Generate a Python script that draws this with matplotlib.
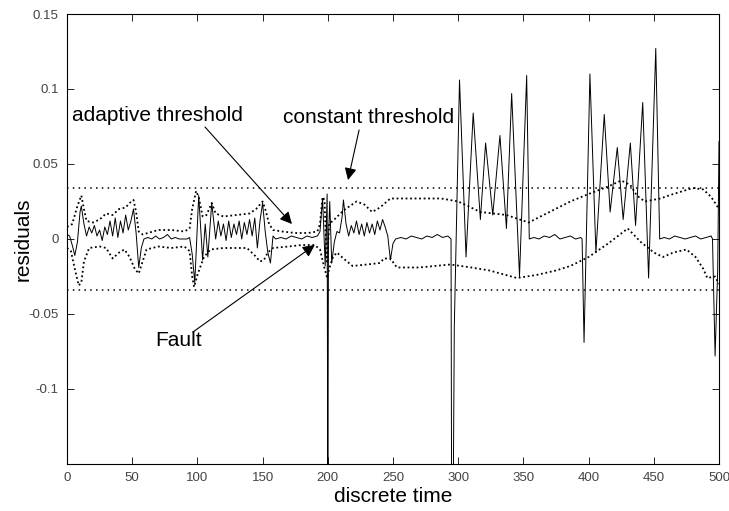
import matplotlib
matplotlib.use("Agg")
import matplotlib.pyplot as plt

plt.rcParams["font.family"] = ["Liberation Sans", "DejaVu Sans"]

# residual signal (time, value)
res_t = [0, 2, 4, 6, 8, 10, 11, 13, 15, 17, 19, 21, 23, 25, 27, 29, 31, 33, 35, 37, 39, 41, 43, 45,
         47, 49, 51, 53, 55, 57, 59, 62, 65, 68, 71, 74, 77, 80, 83, 86, 89, 92, 94, 96, 98, 101,
         104, 106, 108, 111, 114, 116, 118, 120, 122, 124, 126, 128, 130, 132, 134, 136, 138, 140,
         142, 144, 146, 148, 150, 152, 154, 156, 158, 160, 164, 168, 172, 176, 180, 184, 188, 192,
         194, 196, 198, 199.5, 200, 200.5, 201.5, 203, 205, 207, 209, 211, 212, 214, 216, 218, 220,
         222, 224, 226, 228, 230, 232, 234, 236, 238, 240, 242, 244, 246, 248, 250, 252, 256, 260,
         264, 268, 272, 276, 280, 284, 288, 292, 294.5, 295, 296, 297, 301, 306, 311.5, 317, 321,
         326.5, 332, 337, 341, 347, 352.5, 354.5, 358, 362, 366, 370, 374, 378, 382, 386, 390, 394,
         395, 396.5, 401, 405.6, 412, 416.5, 422, 426.5, 432, 436, 441.5, 446, 451.5, 454.5, 458,
         462, 466, 470, 474, 478, 482, 486, 490, 494, 495, 497, 499, 500]
res_v = [0.003, 0.002, -0.004, -0.011, -0.002, 0.018, 0.022, 0.010, 0.002, 0.008, 0.004, 0.009,
         0.002, 0.006, -0.001, 0.008, 0.003, 0.012, 0.002, 0.014, 0.001, 0.012, 0.004, 0.016, 0.006,
         0.012, 0.020, 0.004, -0.019, -0.006, 0.000, 0.001, 0.000, 0.002, 0.000, 0.001, 0.003, 0.000,
         0.001, 0.000, 0.000, 0.000, 0.001, -0.010, -0.029, 0.029, -0.014, 0.010, -0.012, 0.024,
         0.000, 0.012, 0.002, 0.010, -0.001, 0.012, 0.001, 0.010, 0.003, 0.012, 0.000, 0.011, 0.003,
         0.013, 0.002, 0.014, -0.006, 0.012, 0.024, 0.005, -0.009, -0.016, 0.002, 0.000, 0.001,
         0.000, 0.002, 0.001, 0.000, 0.002, 0.001, 0.002, 0.005, 0.027, -0.018, 0.030, -0.200, 0.000,
         0.025, -0.016, -0.002, 0.005, 0.004, 0.015, 0.026, 0.010, 0.002, 0.009, 0.004, 0.012, 0.003,
         0.010, 0.002, 0.011, 0.004, 0.010, 0.003, 0.012, 0.006, 0.013, 0.008, 0.002, -0.014, -0.003,
         0.000, 0.001, 0.000, 0.002, 0.001, 0.000, 0.002, 0.001, 0.003, 0.001, 0.002, 0.000, -0.200,
         -0.200, -0.059, 0.106, -0.012, 0.084, 0.013, 0.064, 0.016, 0.069, 0.007, 0.097, -0.025,
         0.109, 0.000, 0.001, 0.000, 0.002, 0.001, 0.003, 0.000, 0.001, 0.002, 0.000, 0.001, 0.000,
         -0.069, 0.110, -0.009, 0.083, 0.018, 0.061, 0.013, 0.064, 0.009, 0.091, -0.026, 0.127,
         0.000, 0.001, 0.000, 0.002, 0.001, 0.000, 0.001, 0.002, 0.000, 0.001, 0.002, 0.000, -0.078,
         -0.020, 0.065]

# adaptive threshold, upper and lower
up_t = [0, 4, 8, 11, 13, 15, 20, 25, 30, 35, 40, 45, 48, 51, 53, 55, 58, 62, 70, 80, 90, 94, 96,
        99, 101, 104, 107, 111, 114, 120, 130, 140, 145, 150, 152, 155, 158, 165, 175, 185, 192,
        194, 196, 197.5, 198.5, 199.5, 201, 205, 212, 222, 228, 234, 240, 248, 260, 275, 287, 300,
        317, 337, 354, 370, 386, 400, 415, 425, 432, 437, 443, 455, 465, 480, 488, 494, 497, 500]
up_v = [0.008, 0.010, 0.022, 0.029, 0.020, 0.012, 0.011, 0.013, 0.017, 0.016, 0.020, 0.021, 0.024,
        0.026, 0.018, 0.005, 0.003, 0.004, 0.006, 0.006, 0.005, 0.007, 0.020, 0.032, 0.028, 0.015,
        0.016, 0.024, 0.017, 0.015, 0.016, 0.017, 0.020, 0.025, 0.020, 0.010, 0.006, 0.005, 0.004,
        0.004, 0.005, 0.010, 0.028, 0.026, 0.000, -0.015, 0.010, 0.013, 0.019, 0.025, 0.023, 0.018,
        0.021, 0.027, 0.027, 0.027, 0.027, 0.025, 0.018, 0.016, 0.011, 0.018, 0.025, 0.030, 0.035,
        0.039, 0.036, 0.029, 0.025, 0.027, 0.030, 0.034, 0.033, 0.028, 0.024, 0.020]

lo_t = [0, 3, 6, 9, 11, 13, 17, 25, 30, 35, 40, 44, 48, 52, 55, 58, 61, 70, 80, 90, 94, 96, 97.5,
        100, 105, 110, 120, 130, 138, 144, 148, 151, 154, 158, 170, 180, 190, 194, 197, 199.5, 201,
        204, 207, 212, 219, 230, 240, 243, 248, 253, 270, 294, 310, 324, 345, 360, 375, 386, 400,
        415, 430, 440, 450, 457, 465, 475, 482, 488, 491, 497, 500]
lo_v = [-0.006, -0.008, -0.020, -0.031, -0.029, -0.015, -0.006, -0.005, -0.006, -0.013, -0.009,
        -0.007, -0.012, -0.020, -0.023, -0.015, -0.007, -0.005, -0.006, -0.005, -0.008, -0.025,
        -0.032, -0.024, -0.012, -0.007, -0.006, -0.006, -0.006, -0.011, -0.015, -0.014, -0.009,
        -0.006, -0.005, -0.004, -0.004, -0.007, -0.018, -0.026, -0.020, -0.012, -0.009, -0.013,
        -0.018, -0.017, -0.016, -0.013, -0.013, -0.019, -0.019, -0.017, -0.019, -0.021, -0.026,
        -0.024, -0.021, -0.018, -0.012, -0.003, 0.007, -0.002, -0.009, -0.012, -0.009, -0.007,
        -0.012, -0.020, -0.026, -0.025, -0.030]

const_level = 0.034
x_ticks = [0, 50, 100, 150, 200, 250, 300, 350, 400, 450, 500]
y_ticks = [-0.1, -0.05, 0, 0.05, 0.1, 0.15]
y_tick_labels = ["-0.1", "-0.05", "0", "0.05", "0.1", "0.15"]

fig = plt.figure(figsize=(7.29, 5.11), dpi=100)
ax = fig.add_axes([0.0919, 0.092, 0.8944, 0.8806])

ax.plot(res_t, res_v, color="black", lw=0.7)
ax.plot(up_t, up_v, color="black", lw=1.3, linestyle=(0, (1, 1.5)))
ax.plot(lo_t, lo_v, color="black", lw=1.3, linestyle=(0, (1, 1.5)))
ax.axhline(const_level, color="black", lw=1.1, linestyle=(0, (1, 2.8)))
ax.axhline(-const_level, color="black", lw=1.1, linestyle=(0, (1, 2.8)))

ax.set_xlim(0, 500)
ax.set_ylim(-0.15, 0.15)
ax.set_xticks(x_ticks)
ax.set_xticklabels([str(v) for v in x_ticks])
ax.set_yticks(y_ticks)
ax.set_yticklabels(y_tick_labels)
ax.tick_params(direction="in", top=True, right=True, length=5, width=0.6,
               labelsize=9.5, labelcolor="#444444", pad=6)
for sp in ax.spines.values():
    sp.set_linewidth(0.8)

ax.set_xlabel("discrete time", fontsize=15, labelpad=2)
ax.set_ylabel("residuals", fontsize=15)
ax.yaxis.set_label_coords(-0.052, 0.5)

arrow = dict(arrowstyle="-|>", color="black", lw=0.8, mutation_scale=18, shrinkA=0, shrinkB=0)
ax.text(3.8, 0.082, "adaptive threshold", fontsize=15, va="center", ha="left")
ax.annotate("", xy=(172.5, 0.010), xytext=(105.8, 0.0747), arrowprops=arrow)
ax.text(165.6, 0.081, "constant threshold", fontsize=15, va="center", ha="left")
ax.annotate("", xy=(215.5, 0.0393), xytext=(224, 0.0727), arrowprops=arrow)
ax.text(68, -0.068, "Fault", fontsize=15, va="center", ha="left")
ax.annotate("", xy=(190, -0.004), xytext=(96.6, -0.062), arrowprops=arrow)

fig.savefig("out.png", dpi=100)
